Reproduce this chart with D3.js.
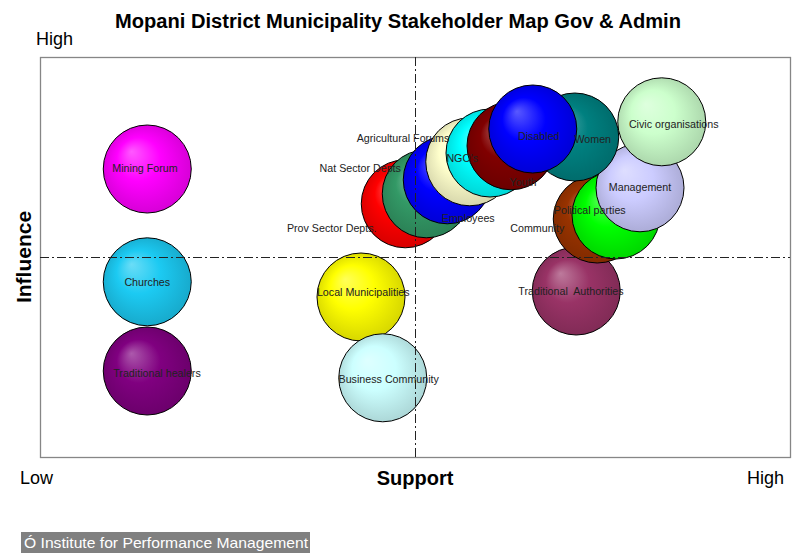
<!DOCTYPE html>
<html>
<head>
<meta charset="utf-8">
<script src="https://cdn.jsdelivr.net/npm/d3@7"></script>
<style>
  html, body { margin: 0; padding: 0; background: #fff; }
  svg { display: block; }
</style>
</head>
<body>
<svg id="chart" width="792" height="555"></svg>
<script>
// ---- Data ----
const stakeholders = ["Traditional healers", "Churches", "Mining Forum", "Local Municipalities",
  "Business Community", "Traditional  Authorities", "Community", "Political parties", "Management",
  "Women", "Civic organisations", "Prov Sector Depts.", "Nat Sector Depts", "Agricultural Forums",
  "NGO's", "Employees", "Youth", "Disabled"];
const support   = [1.43, 1.43, 1.43, 4.28, 4.57, 7.15, 7.43, 7.68, 8.00, 7.13, 8.29, 4.87, 5.15, 5.43, 5.73, 6.00, 6.28, 6.57];
const influence = [2.15, 4.38, 7.20, 4.00, 1.98, 4.15, 5.95, 6.05, 6.73, 8.00, 8.38, 6.33, 6.58, 6.93, 7.38, 7.60, 7.78, 8.20];
const bubbleSize = [1, 1, 1, 1, 1, 1, 1, 1, 1, 1, 1, 1, 1, 1, 1, 1, 1, 1];
// data-label anchor points (in data units) as placed in the reference
const labelSupport   = [1.56, 1.43, 1.40, 4.31, 4.65, 7.08, 6.63, 7.33, 8.00, 7.37, 8.45, 3.89, 4.27, 4.84, 5.63, 5.71, 6.44, 6.65];
const labelInfluence = [2.10, 4.38, 7.23, 4.13, 1.95, 4.15, 5.73, 6.18, 6.75, 7.95, 8.33, 5.73, 7.23, 7.98, 7.48, 5.98, 6.88, 8.03];
const colors = ["#800080", "#1ccaf2", "#ff00ff", "#ffff00", "#ccffff", "#993366", "#993300", "#00ff00", "#ccccff",
  "#008080", "#ccffcc", "#ff0000", "#339966", "#0000ff", "#ffffcc", "#00ffff", "#800000", "#0000ff"];
const xDomain = [0, 10];
const yDomain = [0, 10];
const xMid = 5, yMid = 5;
const title = "Mopani District Municipality Stakeholder Map Gov & Admin";
const xTitle = "Support", yTitle = "Influence";
const lowLabel = "Low", highLabel = "High";
const footer = "Ó Institute for Performance Management";

// ---- Layout ----
const svg = d3.select("#chart");
const plot = { left: 40, right: 790, top: 57, bottom: 457 };
const x = d3.scaleLinear().domain(xDomain).range([plot.left, plot.right]);
const y = d3.scaleLinear().domain(yDomain).range([plot.bottom, plot.top]);
const r = d3.scaleSqrt().domain([0, 1]).range([0, 44]);
const font = "'Liberation Sans', Arial, sans-serif";

// gradients
const defs = svg.append("defs");
colors.forEach((c, i) => {
  const g = defs.append("radialGradient").attr("id", "grad" + i)
    .attr("cx", "50%").attr("cy", "50%").attr("r", "55%")
    .attr("fx", "32%").attr("fy", "30%");
  const base = d3.rgb(c);
  const light = d3.interpolateRgb(c, "#ffffff")(0.35);
  const dark = base.darker(0.55);
  g.append("stop").attr("offset", "0%").attr("stop-color", light);
  g.append("stop").attr("offset", "45%").attr("stop-color", c);
  g.append("stop").attr("offset", "100%").attr("stop-color", dark);
});

// plot frame
svg.append("rect")
  .attr("x", plot.left + 0.5).attr("y", plot.top + 0.5)
  .attr("width", plot.right - plot.left).attr("height", plot.bottom - plot.top)
  .attr("fill", "#fff").attr("stroke", "#868686").attr("stroke-width", 1.3);

// bubbles
const data = stakeholders.map((s, i) => ({
  name: s, sx: support[i], sy: influence[i], size: bubbleSize[i],
  lx: labelSupport[i], ly: labelInfluence[i], i
}));
svg.append("g").selectAll("circle").data(data).join("circle")
  .attr("cx", d => x(d.sx)).attr("cy", d => y(d.sy)).attr("r", d => r(d.size))
  .attr("fill", d => `url(#grad${d.i})`)
  .attr("stroke", "#000").attr("stroke-width", 1);

// quadrant lines (drawn over bubbles)
const dash = "9,3,2,3";
svg.append("line")
  .attr("x1", x(xMid) + 0.5).attr("x2", x(xMid) + 0.5)
  .attr("y1", plot.top).attr("y2", plot.bottom)
  .attr("stroke", "#222").attr("stroke-width", 1).attr("stroke-dasharray", dash);
svg.append("line")
  .attr("x1", plot.left).attr("x2", plot.right)
  .attr("y1", y(yMid) + 0.5).attr("y2", y(yMid) + 0.5)
  .attr("stroke", "#222").attr("stroke-width", 1).attr("stroke-dasharray", dash);

// data labels
svg.append("g").selectAll("text").data(data).join("text")
  .attr("x", d => x(d.lx)).attr("y", d => y(d.ly) + 3.7)
  .attr("text-anchor", "middle")
  .attr("font-family", font).attr("font-size", 10.7)
  .attr("fill", "#222")
  .attr("xml:space", "preserve")
  .style("white-space", "pre")
  .text(d => d.name);

// title
svg.append("text").attr("x", 398).attr("y", 28)
  .attr("text-anchor", "middle").attr("font-family", font)
  .attr("font-weight", "bold").attr("font-size", 19.5).attr("fill", "#000")
  .attr("textLength", 566).attr("lengthAdjust", "spacingAndGlyphs")
  .text(title);

// axis end labels
svg.append("text").attr("x", 36).attr("y", 45).attr("font-family", font)
  .attr("font-size", 18).text(highLabel);
svg.append("text").attr("x", 20).attr("y", 484).attr("font-family", font)
  .attr("font-size", 18).text(lowLabel);
svg.append("text").attr("x", 784).attr("y", 484).attr("text-anchor", "end")
  .attr("font-family", font).attr("font-size", 18).text(highLabel);

// axis titles
svg.append("text").attr("x", x(xMid)).attr("y", 485).attr("text-anchor", "middle")
  .attr("font-family", font).attr("font-weight", "bold").attr("font-size", 20).text(xTitle);
svg.append("text").attr("transform", `translate(31,${y(yMid)}) rotate(-90)`)
  .attr("text-anchor", "middle").attr("font-family", font)
  .attr("font-weight", "bold").attr("font-size", 21).text(yTitle);

// footer
svg.append("rect").attr("x", 21).attr("y", 532).attr("width", 289).attr("height", 21).attr("fill", "#808080");
svg.append("text").attr("x", 24).attr("y", 548)
  .attr("font-family", "'Liberation Sans Narrow', 'Liberation Sans', Arial, sans-serif")
  .attr("font-size", 15).attr("fill", "#fff")
  .attr("textLength", 284).attr("lengthAdjust", "spacingAndGlyphs")
  .text(footer);
</script>
</body>
</html>
